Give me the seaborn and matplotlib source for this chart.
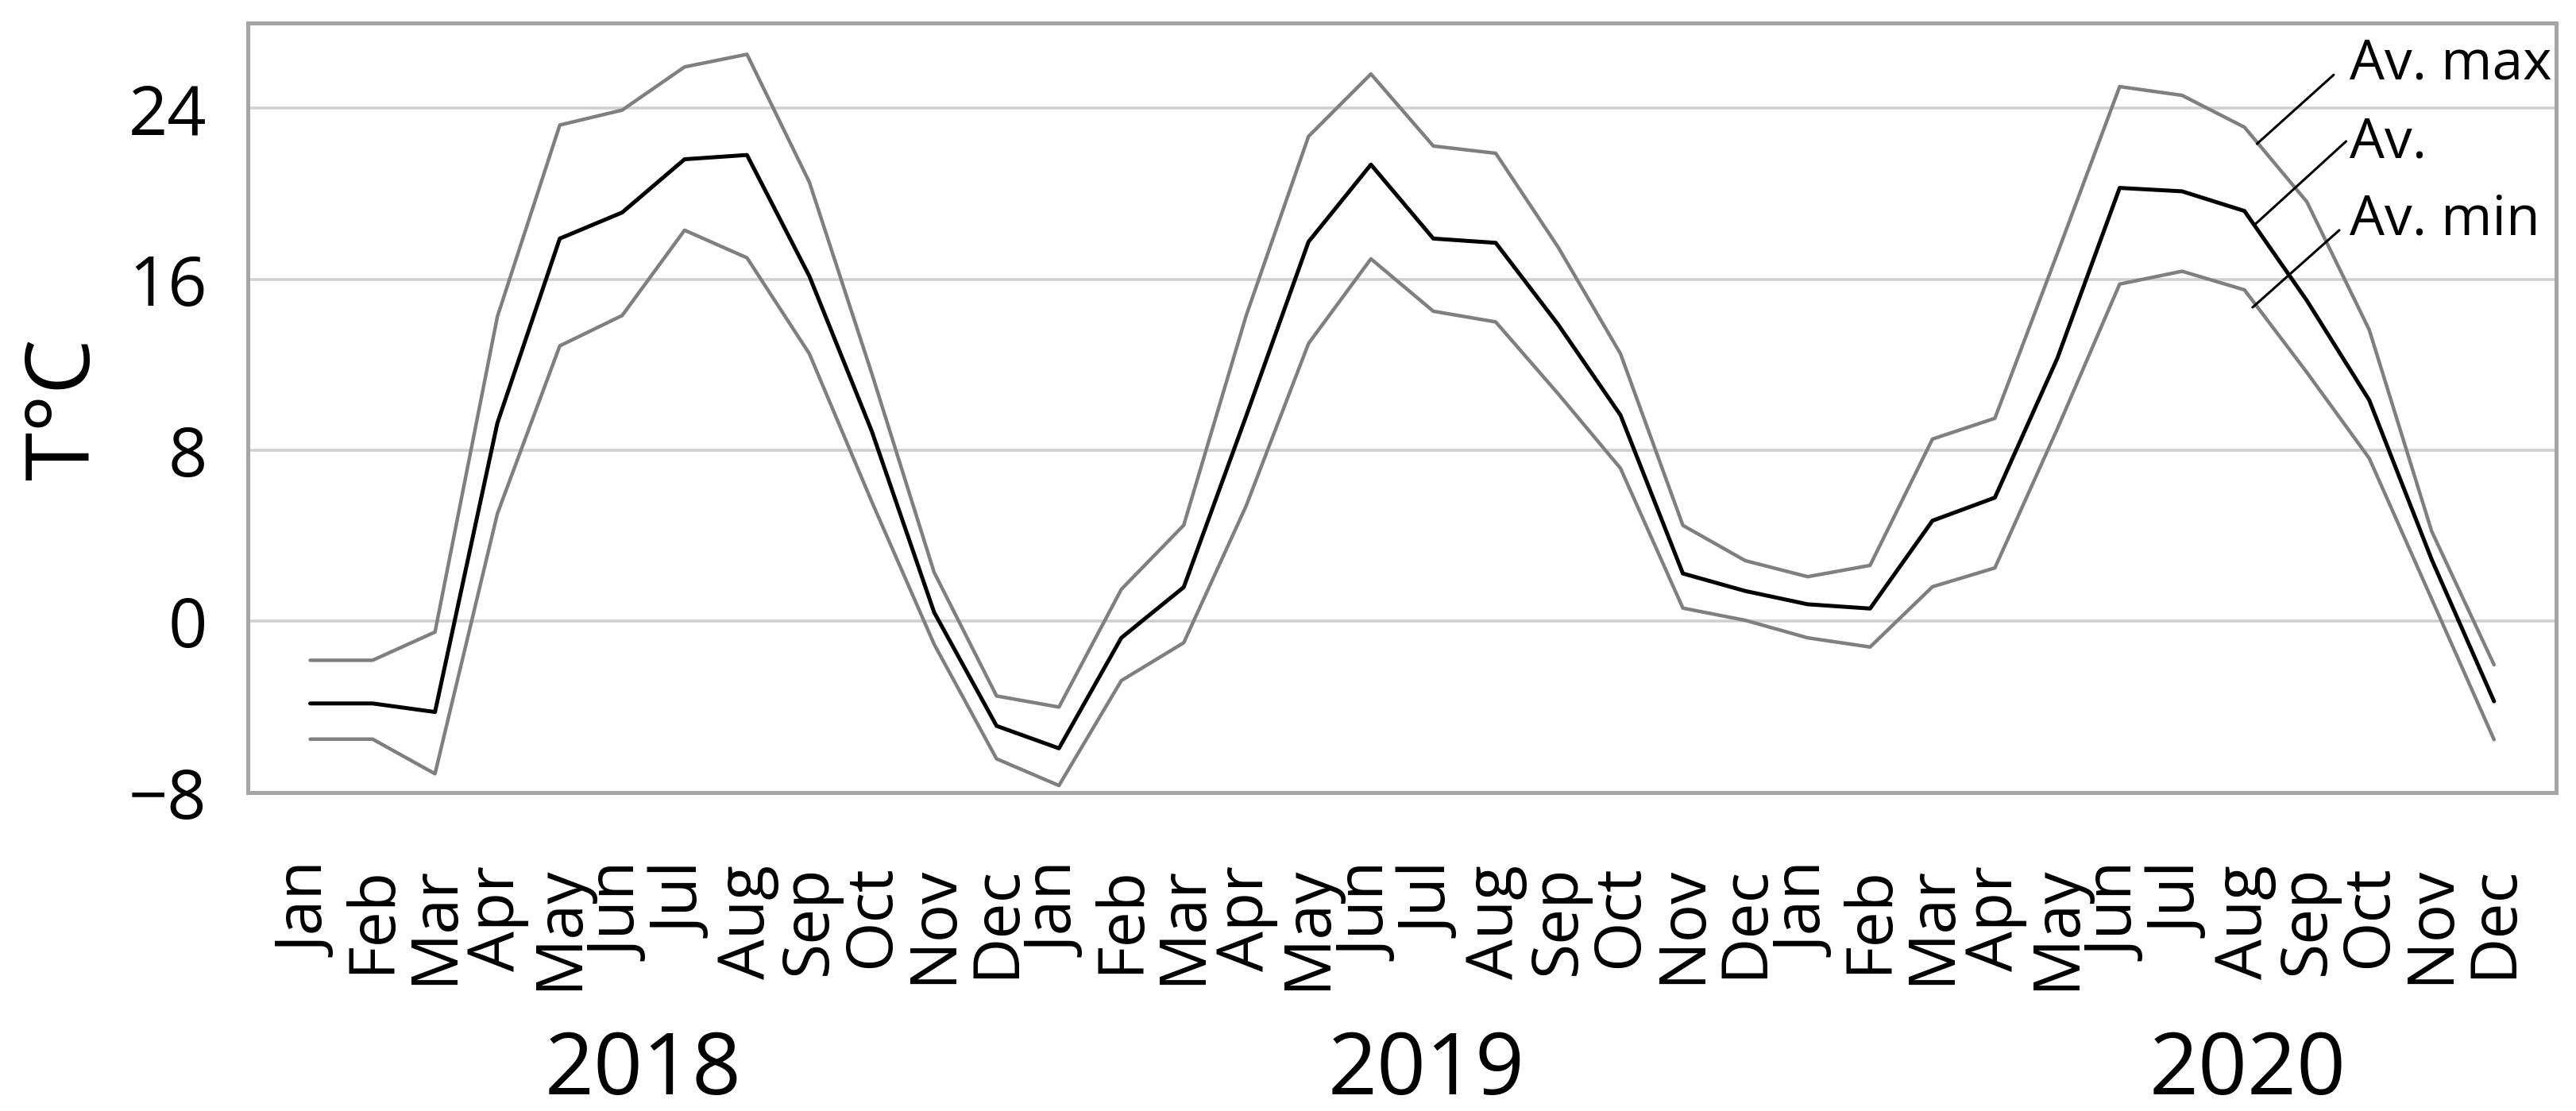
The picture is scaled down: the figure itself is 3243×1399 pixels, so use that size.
import matplotlib
matplotlib.use('Agg')
import matplotlib.pyplot as plt
import matplotlib.transforms as mtransforms
import seaborn as sns
import pandas as pd

# monthly temperatures 2018-2020
months = ['Jan', 'Feb', 'Mar', 'Apr', 'May', 'Jun',
          'Jul', 'Aug', 'Sep', 'Oct', 'Nov', 'Dec'] * 3
years = ['2018', '2019', '2020']
year_pos = [5.33, 17.89, 31.05]

av_max = [-1.82, -1.82, -0.50, 14.26, 23.22, 23.92, 25.94, 26.53, 20.55, 11.6, 2.29, -3.49,
          -4.01, 1.50, 4.50, 14.3, 22.69, 25.61, 22.24, 21.90, 17.51, 12.52, 4.49, 2.84,
          2.09, 2.62, 8.53, 9.5, 17.2, 25.02, 24.61, 23.12, 19.63, 13.64, 4.22, -2.03]
av = [-3.84, -3.84, -4.24, 9.28, 17.91, 19.13, 21.62, 21.82, 16.15, 8.9, 0.42, -4.89,
      -5.94, -0.77, 1.60, 9.6, 17.76, 21.37, 17.91, 17.71, 13.89, 9.65, 2.24, 1.42,
      0.80, 0.60, 4.71, 5.79, 12.3, 20.28, 20.12, 19.20, 15.01, 10.35, 2.9, -3.74]
av_min = [-5.51, -5.51, -7.13, 5.04, 12.89, 14.31, 18.30, 17.01, 12.52, 5.6, -1.07, -6.43,
          -7.68, -2.77, -1.00, 5.4, 13.0, 16.96, 14.51, 14.01, 10.65, 7.16, 0.62, 0.05,
          -0.77, -1.20, 1.62, 2.5, 9.0, 15.78, 16.38, 15.51, 11.65, 7.63, 1.05, -5.53]

df = pd.DataFrame({'pos': range(len(months)), 'max': av_max, 'av': av, 'min': av_min})

sns.set_style('white')
plt.rcParams['font.family'] = ['Open Sans', 'DejaVu Sans']
plt.rcParams['text.color'] = 'black'
plt.rcParams['xtick.labelcolor'] = 'black'
plt.rcParams['ytick.labelcolor'] = 'black'

fig = plt.figure(figsize=(32.43, 13.99), dpi=100)
ax = fig.add_axes([0.0962, 0.2868, 0.8962, 0.6926])

grey = '#7f7f7f'
axis_c = '#a5a5a5'
sns.lineplot(data=df, x='pos', y='max', ax=ax, color=grey, linewidth=3.2)
sns.lineplot(data=df, x='pos', y='min', ax=ax, color=grey, linewidth=3.2)
sns.lineplot(data=df, x='pos', y='av', ax=ax, color='black', linewidth=3.6)

ax.set_xlim(-1, 36)
ax.set_ylim(-8, 28)
ax.set_yticks([-8, 0, 8, 16, 24])
ax.set_yticks([-4, 4, 12, 20], minor=True)
ax.set_xticks(list(range(len(months))))
ax.set_xticklabels(months)
ax.grid(axis='y', which='major', color='#cfcfcf', linewidth=2.6)
ax.set_axisbelow(True)
for s in ax.spines.values():
    s.set_color(axis_c)
    s.set_linewidth(3.6)

ax.tick_params(axis='x', length=36, width=2.9, color=axis_c, pad=30,
               labelsize=58, labelrotation=90, labelcolor='black')
ax.tick_params(axis='y', which='major', length=0, pad=37, labelsize=62,
               labelcolor='black')
ax.tick_params(axis='y', which='minor', direction='in', length=19.4,
               width=2.9, color=axis_c)
ax.set_xlabel('')
ax.set_ylabel('')

fig.text(112 / 3243, 1 - 515 / 1399, 'T°C', fontsize=80, rotation=90,
         rotation_mode='anchor', ha='center', va='baseline', color='black')

# year labels under the month labels
trans = mtransforms.blended_transform_factory(ax.transData, fig.transFigure)
for yr, xp in zip(years, year_pos):
    ax.text(xp, 1 - 1378 / 1399, yr, transform=trans, fontsize=78,
            ha='center', va='baseline', color='black')

# series labels with leader lines
labels = ['Av. max', 'Av.', 'Av. min']
label_y = [25.37, 21.71, 18.10]
lead_start = [(32.43, 25.57), (32.63, 22.46), (32.52, 18.30)]
lead_end = [(31.20, 22.34), (31.18, 18.60), (31.13, 14.69)]
for lab, ly, st, en in zip(labels, label_y, lead_start, lead_end):
    ax.text(32.68, ly, lab, fontsize=50, ha='left', va='baseline', color='black')
    ax.plot([st[0], en[0]], [st[1], en[1]], color='black', linewidth=2.2)

plt.savefig('out.png', dpi=100)
